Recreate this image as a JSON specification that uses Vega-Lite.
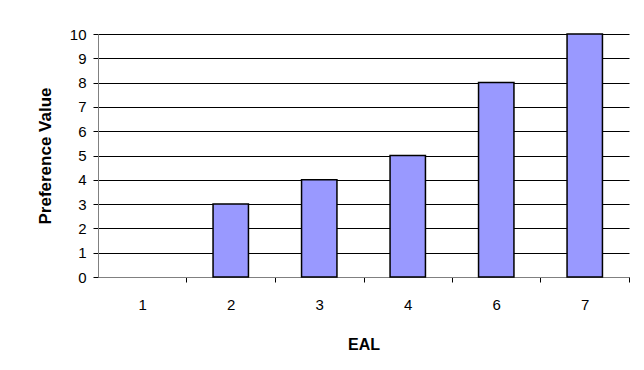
{
  "$schema": "https://vega.github.io/schema/vega-lite/v6.json",
  "width": 531,
  "height": 243,
  "autosize": {"type": "none"},
  "padding": {"left": 98, "top": 34, "right": 15, "bottom": 93},
  "background": "white",
  "config": {
    "view": {"stroke": null},
    "font": "Liberation Sans"
  },
  "data": {
    "values": [
      {"EAL": "1", "value": 0},
      {"EAL": "2", "value": 3},
      {"EAL": "3", "value": 4},
      {"EAL": "4", "value": 5},
      {"EAL": "6", "value": 8},
      {"EAL": "7", "value": 10}
    ]
  },
  "mark": {"type": "bar", "fill": "#9999FF", "stroke": "#000000", "strokeWidth": 1.5},
  "encoding": {
    "x": {
      "field": "EAL",
      "type": "ordinal",
      "sort": null,
      "scale": {"paddingInner": 0.6, "paddingOuter": 0.3},
      "axis": {
        "title": "EAL",
        "titleFont": "Liberation Sans",
        "titleFontSize": 16,
        "titleFontWeight": "bold",
        "titleColor": "#000000",
        "titlePadding": 24,
        "labelAngle": 0,
        "labelFont": "Liberation Sans",
        "labelFontSize": 15,
        "labelColor": "#000000",
        "labelPadding": 15,
        "labelOffset": -44.25,
        "domainColor": "#808080",
        "tickColor": "#000000",
        "tickSize": 5,
        "tickOffset": 44.25,
        "grid": false
      }
    },
    "y": {
      "field": "value",
      "type": "quantitative",
      "scale": {"domain": [0, 10], "nice": false},
      "axis": {
        "title": "Preference Value",
        "titleFont": "Liberation Sans",
        "titleFontSize": 17,
        "titleFontWeight": "bold",
        "titleColor": "#000000",
        "titlePadding": 15,
        "values": [0, 1, 2, 3, 4, 5, 6, 7, 8, 9, 10],
        "labelFont": "Liberation Sans",
        "labelFontSize": 15,
        "labelColor": "#000000",
        "labelPadding": 7,
        "domainColor": "#808080",
        "tickColor": "#000000",
        "tickSize": 5,
        "grid": true,
        "gridColor": "#000000",
        "gridWidth": 1,
        "gridOpacity": 1
      }
    },
    "strokeOpacity": {
      "condition": {"test": "datum.value === 0", "value": 0},
      "value": 1
    }
  }
}
